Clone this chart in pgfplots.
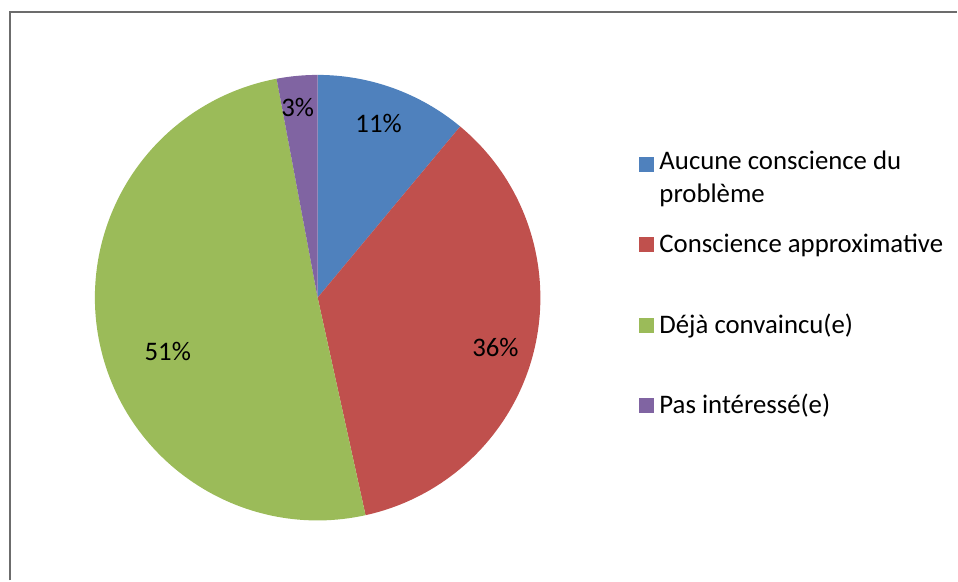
\documentclass[border=0pt]{standalone}
\usepackage{pgfplots}
\usepackage{pgfplotstable}
\pgfplotsset{compat=1.18}
\usepackage{fontspec}
\setmainfont{Carlito}
\definecolor{c0}{HTML}{4F81BD}
\definecolor{c1}{HTML}{C0504D}
\definecolor{c2}{HTML}{9BBB59}
\definecolor{c3}{HTML}{8064A2}

% share (%), shown percentage, label position in picture pixels
\pgfplotstableread{
value pct lx ly
11.05 11 379 124
35.50 36 496 348
50.50 51 168 352
2.95  3  298 108
}\piedata

\begin{document}
\begin{tikzpicture}
% precompute slice angles (clockwise from 12 o'clock)
\def\cum{0}
\foreach \i in {0,...,3}{%
  \pgfplotstablegetelem{\i}{value}\of\piedata
  \let\v\pgfplotsretval
  \pgfmathsetmacro{\st}{90-3.6*\cum}%
  \pgfmathsetmacro{\en}{90-3.6*(\cum+\v)}%
  \expandafter\xdef\csname s\i\endcsname{\st}%
  \expandafter\xdef\csname e\i\endcsname{\en}%
  \pgfmathsetmacro{\nc}{\cum+\v}%
  \xdef\cum{\nc}%
  \pgfplotstablegetelem{\i}{pct}\of\piedata
  \expandafter\xdef\csname p\i\endcsname{\pgfplotsretval}%
  \pgfplotstablegetelem{\i}{lx}\of\piedata
  \expandafter\xdef\csname lx\i\endcsname{\pgfplotsretval}%
  \pgfplotstablegetelem{\i}{ly}\of\piedata
  \expandafter\xdef\csname ly\i\endcsname{\pgfplotsretval}%
}
\begin{axis}[
  scale only axis, width=958pt, height=581pt,
  xmin=0, xmax=958, ymin=0, ymax=581,
  hide axis, clip=false,
  font=\fontsize{26.8}{32}\selectfont,
]
\addplot[draw=none] coordinates {(0,0) (958,581)};
% outer frame (top and left edges visible)
\draw[gray!85!black, line width=2.2pt] (axis cs:10,0) -- (axis cs:10,569) -- (axis cs:958,569);
% slices
\pgfplotsinvokeforeach{0,...,3}{
  \fill[c#1] (axis cs:318,283) -- ++(\csname s#1\endcsname:223pt)
     arc[start angle=\csname s#1\endcsname, end angle=\csname e#1\endcsname, radius=223pt] -- cycle;
}
\pgfplotsinvokeforeach{0,...,3}{
  \node[black] at (axis cs:\csname lx#1\endcsname,581-\csname ly#1\endcsname) {\csname p#1\endcsname\%};
}
% legend
\tikzset{lg/.style={anchor=base west, inner xsep=0pt}}
\fill[c0] (axis cs:640,581-157) rectangle (axis cs:655,581-172);
\node[lg] at (axis cs:660,581-170) {Aucune conscience du};
\node[lg] at (axis cs:660,581-203) {problème};
\fill[c1] (axis cs:640,581-237) rectangle (axis cs:655,581-252);
\node[lg] at (axis cs:660,581-253) {Conscience approximative};
\fill[c2] (axis cs:640,581-318) rectangle (axis cs:655,581-333);
\node[lg] at (axis cs:660,581-334) {Déjà convaincu(e)};
\fill[c3] (axis cs:640,581-398) rectangle (axis cs:655,581-413);
\node[lg] at (axis cs:660,581-414) {Pas intéressé(e)};
\end{axis}
\end{tikzpicture}
\end{document}
